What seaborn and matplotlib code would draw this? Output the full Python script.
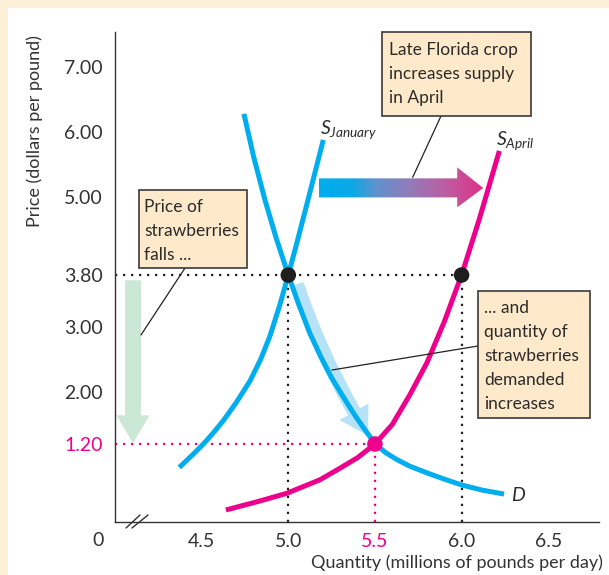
import numpy as np
import pandas as pd
import seaborn as sns
import matplotlib
matplotlib.use("Agg")
import matplotlib.pyplot as plt
from matplotlib.patches import Rectangle, FancyArrowPatch, Polygon
from matplotlib.colors import LinearSegmentedColormap
from matplotlib.lines import Line2D

# ---------------- data ----------------
demand_q = [4.744, 4.80, 4.866, 4.93, 5.0, 5.06, 5.125, 5.19, 5.25, 5.30, 5.356, 5.40, 5.45,
            5.50, 5.56, 5.627, 5.70, 5.806, 5.90, 6.0, 6.12, 6.245]
demand_p = [6.28, 5.62, 4.95, 4.37, 3.80, 3.35, 2.90, 2.53, 2.22, 2.00, 1.76, 1.58, 1.39,
            1.21, 1.07, 0.96, 0.86, 0.75, 0.66, 0.57, 0.49, 0.43]

sjan_q = [4.371, 4.45, 4.51, 4.57, 4.625, 4.70, 4.779, 4.84, 4.894, 4.95, 5.0, 5.048, 5.116, 5.16, 5.202]
sjan_p = [0.84, 1.04, 1.20, 1.38, 1.56, 1.84, 2.17, 2.50, 2.86, 3.33, 3.80, 4.28, 4.98, 5.44, 5.88]

sapr_q = [4.64, 4.818, 4.99, 5.183, 5.30, 5.40, 5.50, 5.60, 5.70, 5.80, 5.90, 6.0, 6.10, 6.218]
sapr_p = [0.185, 0.31, 0.44, 0.65, 0.83, 0.99, 1.20, 1.50, 1.95, 2.45, 3.08, 3.80, 4.64, 5.71]

old_eq_q = [5.0, 6.0]
old_eq_p = [3.80, 3.80]
new_eq_q = [5.5]
new_eq_p = [1.20]

y_ticks = [1.20, 2.00, 3.00, 3.80, 5.00, 6.00, 7.00]
y_tick_labels = ["1.20", "2.00", "3.00", "3.80", "5.00", "6.00", "7.00"]
x_ticks = [4.5, 5.0, 5.5, 6.0, 6.5]
x_tick_labels = ["4.5", "5.0", "5.5", "6.0", "6.5"]

# ---------------- style ----------------
BLUE = "#00AEEF"
MAGENTA = "#EC008C"
CREAM = "#FDF0D9"
BOXFILL = "#FEEACB"
BOXEDGE = "#3A3A3A"
TEXT = "#2B2B2B"
GREEN = "#CBE8D6"
LIGHTBLUE = "#B6E2F8"

sns.set_style("white")
plt.rcParams["font.family"] = ["Lato", "DejaVu Sans"]
plt.rcParams["mathtext.fontset"] = "custom"
plt.rcParams["mathtext.it"] = "Lato:italic"
plt.rcParams["mathtext.rm"] = "Lato"

W, H = 609, 575
FS_TICK = 14
FS_LAB = 13
FS_BOX = 12.5

fig = plt.figure(figsize=(W / 100, H / 100), dpi=100, facecolor=CREAM)
fig.patches.append(Rectangle((8 / W, 0), 1 - 8 / W, 1 - 8 / H, transform=fig.transFigure,
                             facecolor="white", edgecolor="none", zorder=-1))
ax = fig.add_axes([115 / W, 1 - 522 / H, 484 / W, 490 / H])
ax.set_facecolor("none")

df_d = pd.DataFrame({"q": demand_q, "p": demand_p})
df_sj = pd.DataFrame({"q": sjan_q, "p": sjan_p})
df_sa = pd.DataFrame({"q": sapr_q, "p": sapr_p})

# light blue arrow along demand (behind curve)
arr_lb = FancyArrowPatch((5.05, 3.66), (5.462, 1.33), connectionstyle="arc3,rad=0.06",
                         arrowstyle="simple,head_length=20,head_width=24,tail_width=10",
                         mutation_scale=1, color=LIGHTBLUE, lw=0, zorder=1.5,
                         shrinkA=0, shrinkB=0)
ax.add_patch(arr_lb)

# dotted guide lines
DOT = (0, (1, 2.6))
ax.hlines(old_eq_p[0], 4.0, old_eq_q[1], colors="#222222", linestyles=DOT, lw=1.6, zorder=1)
ax.vlines(old_eq_q, 0, old_eq_p, colors="#222222", linestyles=DOT, lw=1.6, zorder=1)
ax.hlines(new_eq_p[0], 4.0, new_eq_q[0], colors=MAGENTA, linestyles=DOT, lw=1.6, zorder=1)
ax.vlines(new_eq_q, 0, new_eq_p, colors=MAGENTA, linestyles=DOT, lw=1.6, zorder=1)

for df, col in [(df_sj, BLUE), (df_d, BLUE), (df_sa, MAGENTA)]:
    sns.lineplot(data=df, x="q", y="p", ax=ax, color=col, lw=3.6, estimator=None, sort=True,
                 zorder=3, solid_joinstyle="round", solid_capstyle="butt")

sns.scatterplot(x=old_eq_q, y=old_eq_p, ax=ax, color="#1E1E1E", s=125, edgecolor="none", zorder=4)
sns.scatterplot(x=new_eq_q, y=new_eq_p, ax=ax, color=MAGENTA, s=125, edgecolor="none", zorder=4)

# gradient arrow (supply shift)
bx0, bx1, tip = 5.177, 5.975, 6.125
by0, by1, hy0, hy1, mid = 4.995, 5.288, 4.842, 5.457, 5.14
poly = Polygon([(bx0, by0), (bx1, by0), (bx1, hy0), (tip, mid), (bx1, hy1), (bx1, by1), (bx0, by1)],
               closed=True, facecolor="none", edgecolor="none", transform=ax.transData)
ax.add_patch(poly)
cmap = LinearSegmentedColormap.from_list("shift", [(0.0, "#00AEEF"), (0.2, "#0BA8E6"), (0.34, "#5E93CF"),
                                                    (0.55, "#927BB8"), (0.78, "#BF5CA0"), (1.0, "#DD2F88")])
grad = np.linspace(0, 1, 256).reshape(1, -1)
im = ax.imshow(grad, cmap=cmap, extent=[bx0, tip, hy0, hy1], aspect="auto", zorder=2.5,
               interpolation="bilinear")
im.set_clip_path(poly)

# price-falls green arrow
ax.annotate("", xy=(4.104, 1.215), xytext=(4.104, 3.72),
            arrowprops=dict(arrowstyle="simple,head_length=20,head_width=24,tail_width=11.5",
                            mutation_scale=1, color=GREEN, lw=0, shrinkA=0, shrinkB=0), zorder=1)

# axes styling
ax.set_xlim(4.0, 6.793)
ax.set_ylim(0, 7.54)
ax.set_autoscale_on(False)
for s in ["top", "right"]:
    ax.spines[s].set_visible(False)
for s in ["left", "bottom"]:
    ax.spines[s].set_color("#333333")
    ax.spines[s].set_linewidth(1.0)
ax.set_yticks(y_ticks)
ax.set_yticklabels(y_tick_labels)
ax.set_xticks(x_ticks)
ax.set_xticklabels(x_tick_labels)
ax.tick_params(axis="both", direction="in", length=5, width=1.0, color="#333333",
               labelsize=FS_TICK, labelcolor="#333333")
ax.tick_params(axis="y", pad=9)
ax.tick_params(axis="x", pad=8)
ax.get_yticklabels()[0].set_color(MAGENTA)
ax.get_xticklabels()[2].set_color(MAGENTA)
ax.set_xlabel("")
ax.set_ylabel("")

# curve labels
ax.text(5.183, 5.97, r"$S_{January}$", fontsize=14, color=TEXT, ha="left", va="baseline")
ax.text(6.199, 5.80, r"$S_{April}$", fontsize=14, color=TEXT, ha="left", va="baseline")
ax.text(6.285, 0.32, r"$D$", fontsize=14, color=TEXT, ha="left", va="baseline")

def F(x, y):
    return (x / W, 1 - y / H)

# axis titles and the zero
fig.text(*F(35, 131), "Price (dollars per pound)", rotation=90, ha="center", va="center",
         fontsize=FS_LAB, color="#333333")
fig.text(*F(603, 563), "Quantity (millions of pounds per day)", ha="right", va="center",
         fontsize=FS_LAB, color="#333333")
fig.text(*F(98, 540), "0", ha="center", va="center", fontsize=FS_TICK, color="#333333")

# axis break mark
for (xa, ya, xb, yb) in [(126, 528, 140, 515), (132, 528, 148, 515)]:
    fig.add_artist(Line2D([xa / W, xb / W], [1 - ya / H, 1 - yb / H], transform=fig.transFigure,
                          color="#333333", lw=1.0, zorder=6))

# annotation boxes
def box(x0, y0, x1, y1, lines, tx, ty0, dy=24):
    fig.patches.append(Rectangle(F(x0, y1), (x1 - x0) / W, (y1 - y0) / H, transform=fig.transFigure,
                                 facecolor=BOXFILL, edgecolor=BOXEDGE, lw=1.2, zorder=5))
    for i, s in enumerate(lines):
        fig.text(*F(tx, ty0 + i * dy), s, ha="left", va="center", fontsize=FS_BOX, color=TEXT, zorder=6)

def leader(x0, y0, x1, y1):
    fig.add_artist(Line2D([x0 / W, x1 / W], [1 - y0 / H, 1 - y1 / H], transform=fig.transFigure,
                          color="#222222", lw=0.9, zorder=4.5))

leader(441, 116, 412.7, 177.3)
leader(185, 268, 141, 335)
leader(478, 346, 332, 370)

box(382, 32, 531, 116, ["Late Florida crop", "increases supply", "in April"], 389, 50)
box(139, 190, 247, 268, ["Price of", "strawberries", "falls ..."], 144, 207)
box(478, 291, 590, 418, ["... and", "quantity of", "strawberries", "demanded", "increases"], 484, 308)

fig.savefig("out.png", dpi=100, facecolor=fig.get_facecolor())
